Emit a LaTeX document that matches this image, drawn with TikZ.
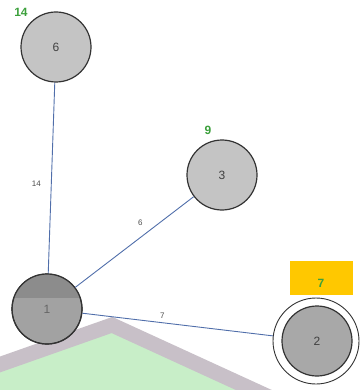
\documentclass[tikz,border=0pt]{standalone}
\usepackage{fontspec}
\setmainfont{Liberation Sans}
\definecolor{bggreen}{RGB}{200,238,200}
\definecolor{bggray}{RGB}{200,192,200}
\definecolor{lgray}{RGB}{196,196,196}
\definecolor{mgray}{RGB}{168,168,168}
\definecolor{n1low}{RGB}{162,162,162}
\definecolor{n1top}{RGB}{140,140,140}
\definecolor{edgeblue}{RGB}{80,110,170}
\definecolor{lblgreen}{RGB}{60,160,60}
\definecolor{boxyellow}{RGB}{255,200,0}
\begin{document}
\begin{tikzpicture}[x=1pt,y=-1pt,
  vtx/.style={circle,draw=black!80,line width=1.2pt,minimum size=70pt,inner sep=0pt,fill=#1,font=\fontsize{12}{12}\selectfont,text=black!75},
  edge/.style={draw=edgeblue,line width=0.9pt},
  elab/.style={font=\fontsize{8}{8}\selectfont,text=black!70,inner sep=1pt},
  glab/.style={font=\bfseries\fontsize{12}{12}\selectfont,text=lblgreen}]
\useasboundingbox (0,0) rectangle (360,390);
% background shape
\fill[bggreen] (-10,372) -- (112,328) -- (280,405) -- (-10,405) -- cycle;
\draw[bggray,line width=15pt,line join=miter] (-10,368) -- (112,325) -- (280,402);
% nodes
\node[vtx=lgray] (n6) at (56,47) {6};
\node[vtx=lgray] (n3) at (222,175) {3};
\node[circle,draw=black!80,line width=0.9pt,minimum size=86pt,fill=white,inner sep=0pt] (n2o) at (316,341) {};
\node[vtx=mgray] (n2) at (317,341) {2};
\node[vtx=n1low] (n1) at (47,309) {};
\begin{scope}
  \clip (47,309) circle (35pt);
  \fill[n1top] (10,270) rectangle (90,298);
\end{scope}
\draw[black!80,line width=1.2pt] (47,309) circle (35pt);
\node[font=\fontsize{12}{12}\selectfont,text=black!60] at (n1) {1};
% edges
\draw[edge] (n6) -- (n1) node[elab,pos=0.53,left=9pt] {14};
\draw[edge] (n3) -- (n1) node[elab,pos=0.45,above=10pt] {6};
\draw[edge] (n1) -- (n2o) node[elab,pos=0.42,above=3pt] {7};
% labels
\node[glab] (l6) at (21,12) {14};
\node[glab] (l3) at (208,130) {9};
\node[fill=boxyellow,minimum width=63pt,minimum height=34pt,inner sep=0pt] (box2) at (321,278) {};
\node[glab] (l2) at (321,283) {7};
\end{tikzpicture}
\end{document}
